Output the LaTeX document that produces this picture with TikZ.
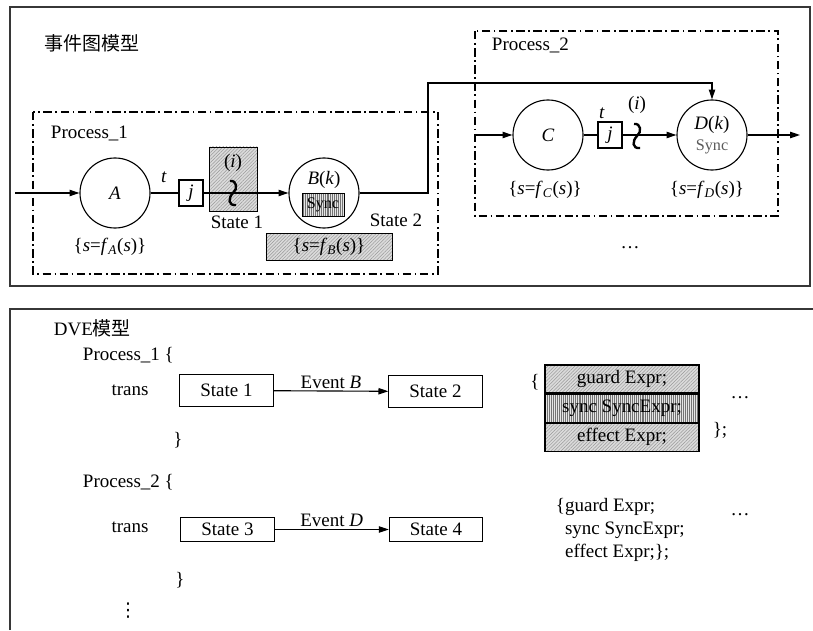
\documentclass[tikz,border=0pt]{standalone}
\usepackage{fontspec}
\setmainfont{Liberation Serif}
\newfontfamily\cjk{Noto Sans CJK SC}
\newfontfamily\symf{DejaVu Sans}
\usetikzlibrary{arrows.meta, positioning, patterns.meta}

\definecolor{frmc}{RGB}{55, 55, 55}
\definecolor{syncg}{RGB}{90, 90, 90}

\newcommand{\fupd}[1]{\{\textit{s}=\textit{f}\textsubscript{\textit{#1}}(\textit{s})\}}

\tikzset{
  evt/.style={circle, draw, line width=0.8pt, minimum size=1.75cm, inner sep=0pt},
  jbox/.style={draw, line width=0.8pt, minimum width=0.6cm, minimum height=0.65cm, inner sep=0pt},
  stbox/.style={draw, line width=0.8pt, minimum width=2.33cm, minimum height=0.78cm, inner sep=0pt},
  row/.style={draw, line width=0.8pt, minimum width=3.85cm, minimum height=0.7cm, inner sep=0pt},
  proc/.style={draw, line width=1.3pt, dash pattern=on 6pt off 2.5pt on 1.2pt off 2.5pt},
  frm/.style={draw=frmc, line width=0.9pt},
  diag/.style={preaction={fill=gray!28}, pattern={Lines[angle=45, distance=1.7pt, line width=0.35pt]}, pattern color=gray!80},
  vert/.style={preaction={fill=gray!20}, pattern={Lines[angle=90, distance=1.4pt, line width=0.4pt]}, pattern color=gray!90!black},
  arr/.style={-{Triangle[length=7pt, width=4.5pt]}, line width=0.8pt},
  lne/.style={line width=0.8pt},
  squig/.pic={\draw[line width=1.7pt] (-3,-12) .. controls (4,-13) and (5,-4) .. (0,0) .. controls (-5,5) and (-5,13) .. (3,12);}
}

\begin{document}
\begin{tikzpicture}[x=0.025cm, y=-0.025cm, every node/.style={font=\fontsize{13.5}{16.4}\selectfont}]
  \useasboundingbox (0,0) rectangle (813,630);

  % event graph panel
  \draw[frm] (10,7) rectangle (810,286);
  \node (title) at (92,43) {\cjk 事件图模型};

  \draw[proc] (33,112) rectangle (438,274);
  \draw[proc] (475,31) rectangle (778,216);
  \node[anchor=west] (p1lbl) at (46,133) {Process\_1};
  \node[anchor=west] (p2lbl) at (487,45) {Process\_2};

  \node[evt] (A) at (115,193) {\textit{A}};
  \node[jbox] (j1) at (191,193) {\textit{j}};
  \node[draw, diag, line width=0.6pt, minimum width=1.18cm, minimum height=1.6cm] (st1) at (233.5,179) {};
  \node (i1) at (233,163) {(\textit{i})};
  \node[evt] (B) at (324,193) {};
  \node (Bk) at (324,180) {\textit{B}(\textit{k})};
  \node[draw, vert, line width=0.6pt, minimum width=1.05cm, minimum height=0.58cm, inner sep=0pt,
        font=\fontsize{11.5}{13}\selectfont] (Bsync) at (323,205) {Sync};
  \node (t1) at (164,177) {\textit{t}};
  \node (st1lbl) at (237,222) {State 1};
  \node (st2lbl) at (396,220) {State 2};
  \node (fA) at (110,247) {\fupd{A}};
  \node[draw, diag, line width=0.6pt, minimum width=3.15cm, minimum height=0.68cm] (fB) at (329,247) {\fupd{B}};

  \node[evt] (C) at (548,135) {\textit{C}};
  \node[jbox] (j2) at (610,135) {\textit{j}};
  \node (t2) at (602,113) {\textit{t}};
  \node (i2) at (637,105) {(\textit{i})};
  \node[evt, align=center] (D) at (712,135) {\textit{D}(\textit{k})\\[-1pt]{\fontsize{11.5}{13}\selectfont\color{syncg}Sync}};
  \node (fC) at (545,190) {\fupd{C}};
  \node (fD) at (707,190) {\fupd{D}};
  \node (more1) at (630,248) {\ldots};

  \coordinate (in1) at (15,193);
  \coordinate (up) at (428,83);
  \coordinate (in2) at (475,135);
  \coordinate (out) at (800,135);

  \draw[arr] (in1) -- (A);
  \draw[lne] (A) -- (j1);
  \draw[arr] (j1) -- (B);
  \draw[arr] (B) -| (up) -| (D);
  \draw[arr] (in2) -- (C);
  \draw[lne] (C) -- (j2);
  \draw[arr] (j2) -- (D);
  \draw[arr] (D) -- (out);
  \pic at (233,193) {squig};
  \pic at (637,136) {squig};

  % DVE panel
  \draw[frm] (10,630) -- (10,309) -- (813,309);
  \node[anchor=west] (dve) at (49,328) {DVE{\cjk 模型}};
  \node[anchor=west] (p1) at (78,355) {Process\_1 \{};
  \node (tr1) at (130,390) {trans};
  \node[stbox] (s1) at (226.5,390.5) {State 1};
  \node[stbox] (s2) at (435.5,391.5) {State 2};
  \draw[arr] (s1) -- node[above, inner sep=1.5pt] {Event \textit{B}} (s2);
  \node (cl1) at (178,440) {\}};

  \node[anchor=west] (p2) at (78,482) {Process\_2 \{};
  \node (tr2) at (130,527) {trans};
  \node[stbox, minimum height=0.58cm] (s3) at (227.5,529.5) {State 3};
  \node[stbox, minimum height=0.58cm] (s4) at (436,529.5) {State 4};
  \draw[arr] (s3) -- node[above, inner sep=1.5pt] {Event \textit{D}} (s4);
  \node (cl2) at (180,580) {\}};
  \node (vd) at (128,611) {\symf ⋮};

  \node[row, diag] (grd) at (622,379) {guard Expr;};
  \node[row, vert, below=0pt of grd] (syn) {sync SyncExpr;};
  \node[row, diag, below=0pt of syn] (eff) {effect Expr;};
  \node (ob) at (535,382) {\{};
  \node (cb) at (720,430) {\};};
  \node (more2) at (740,398) {\ldots};

  \node[anchor=west, align=left] (plain) at (551,530) {\{guard Expr;\\\phantom{\{}sync SyncExpr;\\\phantom{\{}effect Expr;\};};
  \node (more3) at (740,515) {\ldots};
\end{tikzpicture}
\end{document}
